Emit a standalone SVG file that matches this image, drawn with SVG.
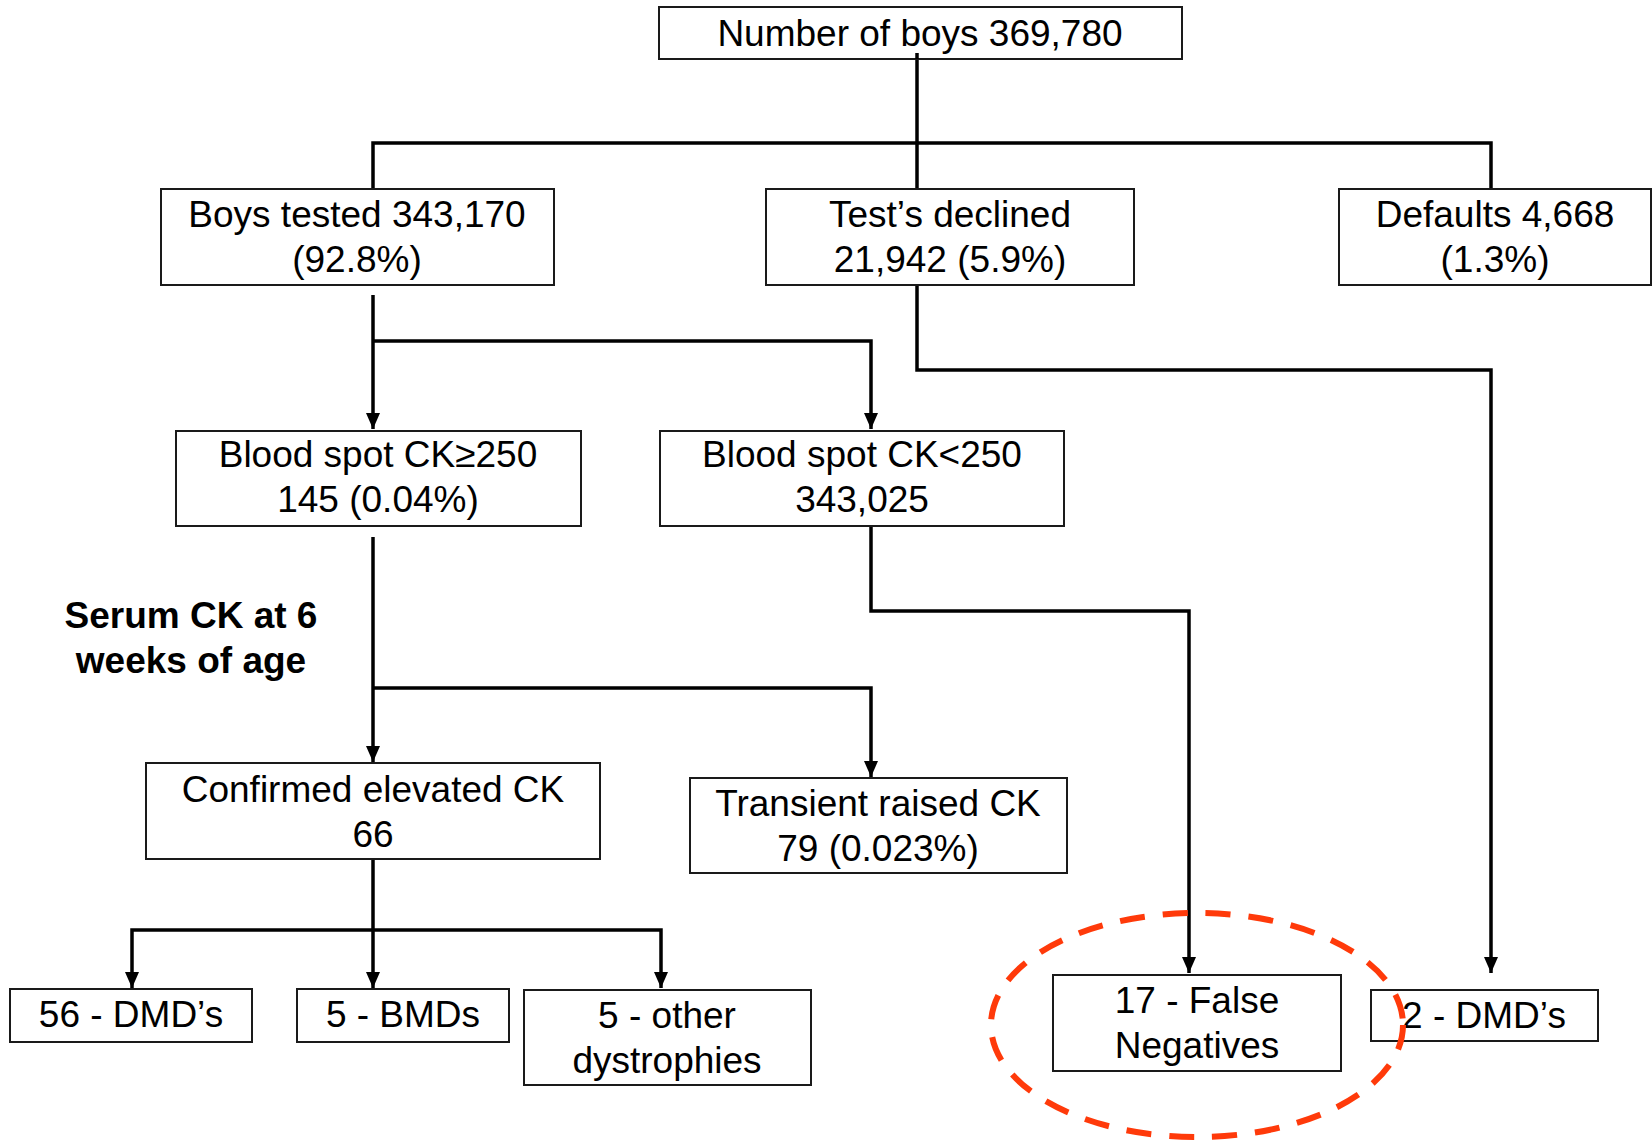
<svg xmlns="http://www.w3.org/2000/svg" width="1652" height="1141" viewBox="0 0 1652 1141">
<style>
.box{fill:#fff;stroke:#1a1a1a;stroke-width:2}
.t{font-family:"Liberation Sans",Arial,sans-serif;font-size:37px;fill:#000;text-anchor:middle}
.b{font-weight:bold}
.c{fill:none;stroke:#000;stroke-width:3.5}
.a{marker-end:url(#ah)}
</style>
<defs>
<marker id="ah" markerUnits="userSpaceOnUse" markerWidth="16" markerHeight="16" viewBox="0 0 16 16" refX="16" refY="8" orient="auto">
<path d="M0,1 L16,8 L0,15 Z" fill="#000"/>
</marker>
</defs>
<rect width="1652" height="1141" fill="#fff"/>
<g id="connectors">
<path class="c" d="M917,53 V189"/>
<path class="c" d="M373,189 V143 H1491 V189"/>
<path class="c a" d="M373,295 V429"/>
<path class="c a" d="M373,341 H871 V429"/>
<path class="c a" d="M917,280 V370 H1491 V973"/>
<path class="c a" d="M373,537 V762"/>
<path class="c a" d="M373,688 H871 V777"/>
<path class="c a" d="M871,520 V611 H1189 V973"/>
<path class="c a" d="M373,854 V988"/>
<path class="c a" d="M373,930 H132 V988"/>
<path class="c a" d="M373,930 H661 V988"/>
</g>
<g id="n-total"><rect class="box" x="659" y="7" width="523" height="52"/><text class="t" x="920" y="46">Number of boys 369,780</text></g>
<path class="c" d="M917,53 V59"/>
<g id="n-tested"><rect class="box" x="161" y="189" width="393" height="96"/><text class="t" x="357" y="227">Boys tested 343,170</text><text class="t" x="357" y="272">(92.8%)</text></g>
<g id="n-declined"><rect class="box" x="766" y="189" width="368" height="96"/><text class="t" x="950" y="227">Test’s declined</text><text class="t" x="950" y="272">21,942 (5.9%)</text></g>
<g id="n-defaults"><rect class="box" x="1339" y="189" width="312" height="96"/><text class="t" x="1495" y="227">Defaults 4,668</text><text class="t" x="1495" y="272">(1.3%)</text></g>
<g id="n-high"><rect class="box" x="176" y="431" width="405" height="95"/><text class="t" x="378" y="467">Blood spot CK≥250</text><text class="t" x="378" y="512">145 (0.04%)</text></g>
<g id="n-low"><rect class="box" x="660" y="431" width="404" height="95"/><text class="t" x="862" y="467">Blood spot CK&lt;250</text><text class="t" x="862" y="512">343,025</text></g>
<g id="n-serum"><text class="t b" x="191" y="628">Serum CK at 6</text><text class="t b" x="191" y="673">weeks of age</text></g>
<g id="n-confirmed"><rect class="box" x="146" y="763" width="454" height="96"/><text class="t" x="373" y="802">Confirmed elevated CK</text><text class="t" x="373" y="847">66</text></g>
<g id="n-transient"><rect class="box" x="690" y="778" width="377" height="95"/><text class="t" x="878" y="816">Transient raised CK</text><text class="t" x="878" y="861">79 (0.023%)</text></g>
<g id="n-dmd56"><rect class="box" x="10" y="989" width="242" height="53"/><text class="t" x="131" y="1027">56 - DMD’s</text></g>
<g id="n-bmd"><rect class="box" x="297" y="989" width="212" height="53"/><text class="t" x="403" y="1027">5 - BMDs</text></g>
<g id="n-other"><rect class="box" x="524" y="990" width="287" height="95"/><text class="t" x="667" y="1028">5 - other</text><text class="t" x="667" y="1073">dystrophies</text></g>
<g id="n-falseneg"><rect class="box" x="1053" y="975" width="288" height="96"/><text class="t" x="1197" y="1013">17 - False</text><text class="t" x="1197" y="1058">Negatives</text></g>
<g id="n-dmd2"><rect class="box" x="1371" y="990" width="227" height="51"/><text class="t" x="1484" y="1028">2 - DMD’s</text></g>
<ellipse id="highlight" cx="1197" cy="1025" rx="206" ry="112" fill="none" stroke="#ff3a0a" stroke-width="6" stroke-dasharray="25 18"/>
</svg>
